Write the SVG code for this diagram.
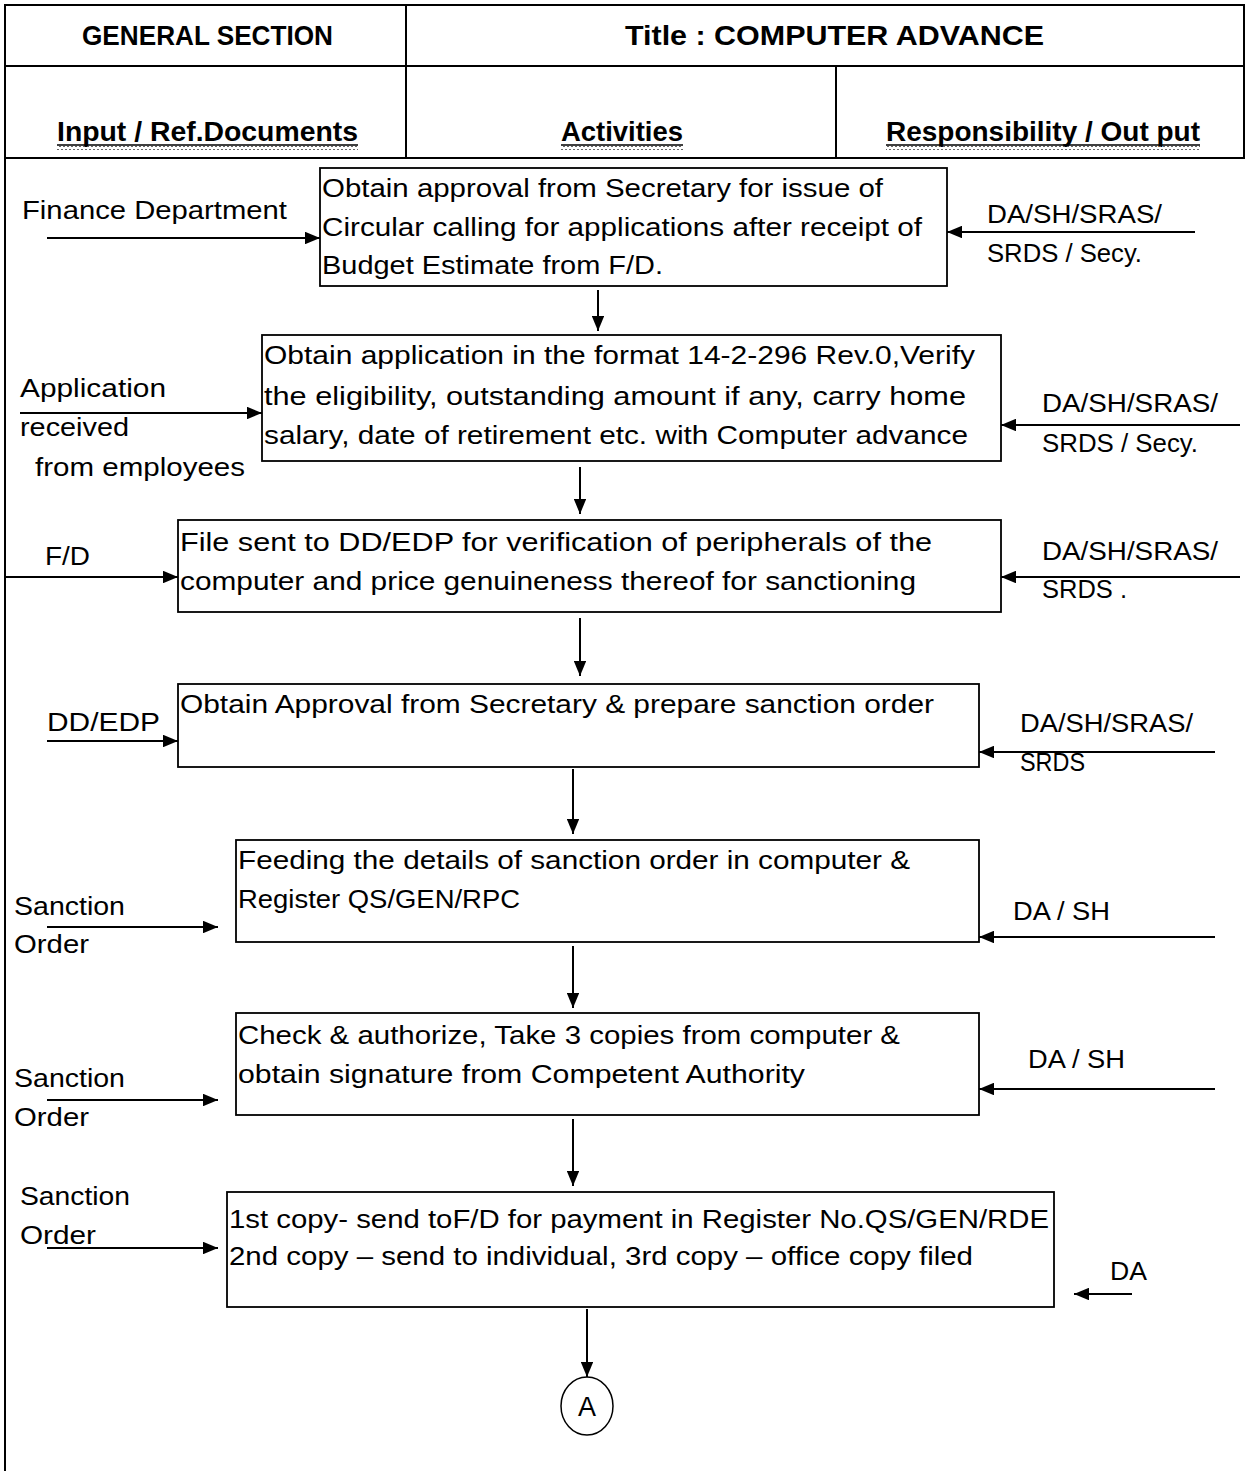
<svg xmlns="http://www.w3.org/2000/svg" width="1246" height="1473" viewBox="0 0 1246 1473">
  <style>
    .t { font-family: "Liberation Sans", Arial, sans-serif; font-size: 25.5px; fill: #000; }
    .h { font-family: "Liberation Sans", Arial, sans-serif; font-size: 27px; font-weight: bold; fill: #000; }
    .frame { stroke: #000; stroke-width: 2; fill: none; }
    .box { stroke: #000; stroke-width: 1.8; fill: #fff; }
    .wire { stroke: #000; stroke-width: 2; fill: none; marker-end: url(#arrow); }
    .ul { stroke: #000; stroke-width: 1.5; }
  </style>
  <defs>
    <marker id="arrow" viewBox="0 0 12 10" refX="12" refY="5" markerUnits="userSpaceOnUse" markerWidth="15" markerHeight="12.5" orient="auto">
      <path d="M0,0 L12,5 L0,10 z" fill="#000"/>
    </marker>
    <pattern id="wave" width="4" height="4" patternUnits="userSpaceOnUse">
      <path d="M0,3 L2,1 L4,3" stroke="#555" stroke-width="0.9" fill="none"/>
    </pattern>
  </defs>

  <rect width="1246" height="1473" fill="#fff"/>

  <!-- header table -->
  <g id="header">
    <line class="frame" x1="5" y1="5" x2="1245" y2="5"/>
    <line class="frame" x1="5" y1="66" x2="1245" y2="66"/>
    <line class="frame" x1="5" y1="158" x2="1245" y2="158"/>
    <line class="frame" x1="5" y1="4" x2="5" y2="1471"/>
    <line class="frame" x1="1244" y1="4" x2="1244" y2="159"/>
    <line class="frame" x1="406" y1="5" x2="406" y2="158"/>
    <line class="frame" x1="836" y1="66" x2="836" y2="158"/>
    <text class="h" x="82" y="45" textLength="251" lengthAdjust="spacingAndGlyphs">GENERAL  SECTION</text>
    <text class="h" x="625" y="45" textLength="419" lengthAdjust="spacingAndGlyphs">Title :  COMPUTER  ADVANCE</text>
    <text class="h" x="57" y="141" textLength="301" lengthAdjust="spacingAndGlyphs">Input / Ref.Documents</text>
    <text class="h" x="561" y="141" textLength="122" lengthAdjust="spacingAndGlyphs">Activities</text>
    <text class="h" x="886" y="141" textLength="314" lengthAdjust="spacingAndGlyphs">Responsibility / Out put</text>
    <line class="ul" x1="57" y1="145" x2="358" y2="145"/>
    <line class="ul" x1="561" y1="145" x2="683" y2="145"/>
    <line class="ul" x1="886" y1="145" x2="1200" y2="145"/>
    <rect x="57" y="146" width="301" height="4" fill="url(#wave)"/>
    <rect x="561" y="146" width="122" height="4" fill="url(#wave)"/>
    <rect x="886" y="146" width="314" height="4" fill="url(#wave)"/>
  </g>

  <!-- activity steps -->
  <g id="step1">
    <rect class="box" x="320" y="168" width="627" height="118"/>
    <text class="t" x="322" y="197" textLength="561" lengthAdjust="spacingAndGlyphs">Obtain approval from Secretary for issue of</text>
    <text class="t" x="322" y="236" textLength="600" lengthAdjust="spacingAndGlyphs">Circular calling for applications after receipt of</text>
    <text class="t" x="322" y="274" textLength="341" lengthAdjust="spacingAndGlyphs">Budget Estimate from F/D.</text>
  </g>
  <g id="step2">
    <rect class="box" x="262" y="335" width="739" height="126"/>
    <text class="t" x="264" y="364" textLength="711" lengthAdjust="spacingAndGlyphs">Obtain application in the format 14-2-296  Rev.0,Verify</text>
    <text class="t" x="264" y="405" textLength="702" lengthAdjust="spacingAndGlyphs">the eligibility, outstanding amount  if any, carry  home</text>
    <text class="t" x="264" y="444" textLength="704" lengthAdjust="spacingAndGlyphs">salary, date of retirement etc. with Computer advance</text>
  </g>
  <g id="step3">
    <rect class="box" x="178" y="520" width="823" height="92"/>
    <text class="t" x="180" y="551" textLength="752" lengthAdjust="spacingAndGlyphs">File sent  to DD/EDP for verification of  peripherals  of the</text>
    <text class="t" x="180" y="590" textLength="736" lengthAdjust="spacingAndGlyphs">computer and price genuineness thereof  for sanctioning</text>
  </g>
  <g id="step4">
    <rect class="box" x="178" y="684" width="801" height="83"/>
    <text class="t" x="180" y="713" textLength="754" lengthAdjust="spacingAndGlyphs">Obtain  Approval from Secretary &amp; prepare sanction order</text>
  </g>
  <g id="step5">
    <rect class="box" x="236" y="840" width="743" height="102"/>
    <text class="t" x="238" y="869" textLength="672" lengthAdjust="spacingAndGlyphs">Feeding the details of sanction order in computer &amp;</text>
    <text class="t" x="238" y="908" textLength="282" lengthAdjust="spacingAndGlyphs">Register QS/GEN/RPC</text>
  </g>
  <g id="step6">
    <rect class="box" x="236" y="1013" width="743" height="102"/>
    <text class="t" x="238" y="1044" textLength="662" lengthAdjust="spacingAndGlyphs">Check &amp; authorize, Take 3 copies from computer &amp;</text>
    <text class="t" x="238" y="1083" textLength="567" lengthAdjust="spacingAndGlyphs">obtain signature from Competent Authority</text>
  </g>
  <g id="step7">
    <rect class="box" x="227" y="1192" width="827" height="115"/>
    <text class="t" x="229" y="1228" textLength="820" lengthAdjust="spacingAndGlyphs">1st copy- send toF/D for payment in Register  No.QS/GEN/RDE</text>
    <text class="t" x="229" y="1265" textLength="744" lengthAdjust="spacingAndGlyphs">2nd copy – send to individual, 3rd copy – office copy filed</text>
  </g>
  <g id="connector-A">
    <ellipse cx="587" cy="1406" rx="26" ry="29" fill="#fff" stroke="#000" stroke-width="1.5"/>
    <text class="t" x="587" y="1416" text-anchor="middle" style="font-size:27px">A</text>
  </g>

  <!-- inputs -->
  <g id="in1"><text class="t" x="22" y="219" textLength="265" lengthAdjust="spacingAndGlyphs">Finance Department</text></g>
  <g id="in2">
    <text class="t" x="20" y="397" textLength="146" lengthAdjust="spacingAndGlyphs">Application</text>
    <text class="t" x="20" y="436" textLength="109" lengthAdjust="spacingAndGlyphs">received</text>
    <text class="t" x="35" y="476" textLength="210" lengthAdjust="spacingAndGlyphs">from employees</text>
  </g>
  <g id="in3"><text class="t" x="45" y="565" textLength="45" lengthAdjust="spacingAndGlyphs">F/D</text></g>
  <g id="in4"><text class="t" x="47" y="731" textLength="113" lengthAdjust="spacingAndGlyphs">DD/EDP</text></g>
  <g id="in5">
    <text class="t" x="14" y="915" textLength="111" lengthAdjust="spacingAndGlyphs">Sanction</text>
    <text class="t" x="14" y="953" textLength="75" lengthAdjust="spacingAndGlyphs">Order</text>
  </g>
  <g id="in6">
    <text class="t" x="14" y="1087" textLength="111" lengthAdjust="spacingAndGlyphs">Sanction</text>
    <text class="t" x="14" y="1126" textLength="75" lengthAdjust="spacingAndGlyphs">Order</text>
  </g>
  <g id="in7">
    <text class="t" x="20" y="1205" textLength="110" lengthAdjust="spacingAndGlyphs">Sanction</text>
    <text class="t" x="20" y="1244" textLength="76" lengthAdjust="spacingAndGlyphs">Order</text>
  </g>

  <!-- responsibilities -->
  <g id="out1">
    <text class="t" x="987" y="223" textLength="175" lengthAdjust="spacingAndGlyphs">DA/SH/SRAS/</text>
    <text class="t" x="987" y="262" textLength="155" lengthAdjust="spacingAndGlyphs">SRDS / Secy.</text>
  </g>
  <g id="out2">
    <text class="t" x="1042" y="412" textLength="176" lengthAdjust="spacingAndGlyphs">DA/SH/SRAS/</text>
    <text class="t" x="1042" y="452" textLength="156" lengthAdjust="spacingAndGlyphs">SRDS / Secy.</text>
  </g>
  <g id="out3">
    <text class="t" x="1042" y="560" textLength="176" lengthAdjust="spacingAndGlyphs">DA/SH/SRAS/</text>
    <text class="t" x="1042" y="598" textLength="85" lengthAdjust="spacingAndGlyphs">SRDS .</text>
  </g>
  <g id="out4">
    <text class="t" x="1020" y="732" textLength="173" lengthAdjust="spacingAndGlyphs">DA/SH/SRAS/</text>
    <text class="t" x="1020" y="771" textLength="65" lengthAdjust="spacingAndGlyphs">SRDS</text>
  </g>
  <g id="out5"><text class="t" x="1013" y="920" textLength="97" lengthAdjust="spacingAndGlyphs">DA / SH</text></g>
  <g id="out6"><text class="t" x="1028" y="1068" textLength="97" lengthAdjust="spacingAndGlyphs">DA / SH</text></g>
  <g id="out7"><text class="t" x="1110" y="1280" textLength="37" lengthAdjust="spacingAndGlyphs">DA</text></g>

  <!-- connectors -->
  <g id="connectors">
    <line class="wire" x1="598" y1="290" x2="598" y2="331"/>
    <line class="wire" x1="580" y1="467" x2="580" y2="514"/>
    <line class="wire" x1="580" y1="618" x2="580" y2="676"/>
    <line class="wire" x1="573" y1="769" x2="573" y2="834"/>
    <line class="wire" x1="573" y1="946" x2="573" y2="1008"/>
    <line class="wire" x1="573" y1="1119" x2="573" y2="1186"/>
    <line class="wire" x1="587" y1="1309" x2="587" y2="1377"/>

    <line class="wire" x1="47" y1="238" x2="320" y2="238"/>
    <line class="wire" x1="20" y1="413" x2="262" y2="413"/>
    <line class="wire" x1="5" y1="577" x2="178" y2="577"/>
    <line class="wire" x1="47" y1="741" x2="178" y2="741"/>
    <line class="wire" x1="47" y1="927" x2="218" y2="927"/>
    <line class="wire" x1="47" y1="1100" x2="218" y2="1100"/>
    <line class="wire" x1="47" y1="1248" x2="218" y2="1248"/>

    <line class="wire" x1="1195" y1="232" x2="947" y2="232"/>
    <line class="wire" x1="1240" y1="425" x2="1001" y2="425"/>
    <line class="wire" x1="1240" y1="577" x2="1001" y2="577"/>
    <line class="wire" x1="1215" y1="752" x2="979" y2="752"/>
    <line class="wire" x1="1215" y1="937" x2="979" y2="937"/>
    <line class="wire" x1="1215" y1="1089" x2="979" y2="1089"/>
    <line class="wire" x1="1132" y1="1294" x2="1074" y2="1294"/>
  </g>
</svg>
